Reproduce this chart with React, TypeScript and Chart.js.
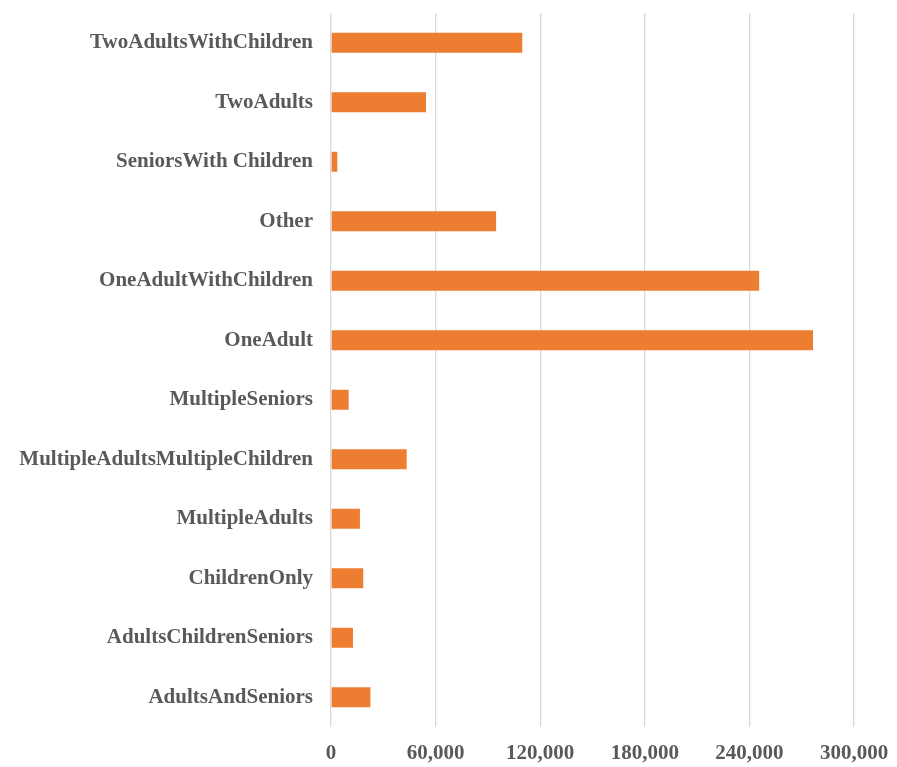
import React, { useEffect, useRef } from "react";
import { Chart, registerables } from "chart.js";

Chart.register(...registerables);

const categories: string[] = [
  "TwoAdultsWithChildren",
  "TwoAdults",
  "SeniorsWith Children",
  "Other",
  "OneAdultWithChildren",
  "OneAdult",
  "MultipleSeniors",
  "MultipleAdultsMultipleChildren",
  "MultipleAdults",
  "ChildrenOnly",
  "AdultsChildrenSeniors",
  "AdultsAndSeniors",
];

const values: number[] = [
  109700, 54500, 3600, 94700, 245600, 276500, 10100, 43400, 16600, 18500, 12600, 22600,
];

const xTicks: number[] = [0, 60000, 120000, 180000, 240000, 300000];

export default function App() {
  const canvasRef = useRef<HTMLCanvasElement | null>(null);

  useEffect(() => {
    document.body.style.margin = "0";
    const canvas = canvasRef.current;
    if (!canvas) return;
    const font = { family: "'Liberation Serif', 'Times New Roman', serif", weight: "bold" as const, size: 21 };
    const chart = new Chart(canvas, {
      type: "bar",
      data: {
        labels: categories,
        datasets: [
          {
            data: values,
            backgroundColor: "#ED7D31",
            borderWidth: 0,
            barPercentage: 0.336,
            categoryPercentage: 1,
          },
        ],
      },
      options: {
        indexAxis: "y",
        animation: false,
        responsive: true,
        maintainAspectRatio: false,
        layout: { padding: { top: 13, right: 43, left: 0, bottom: 0 } },
        plugins: { legend: { display: false }, tooltip: { enabled: false } },
        scales: {
          x: {
            min: xTicks[0],
            max: xTicks[xTicks.length - 1],
            afterBuildTicks: (scale: any) => {
              scale.ticks = xTicks.map((v) => ({ value: v }));
            },
            afterFit: (scale: any) => {
              scale.height = 40;
              scale.paddingLeft = 0;
              scale.paddingRight = 0;
            },
            grid: { color: "#d9d9d9", lineWidth: 1.3, drawTicks: false },
            border: { display: false },
            ticks: {
              color: "#595959",
              font,
              padding: 14,
              maxRotation: 0,
              callback: (v: any) => Number(v).toLocaleString("en-US"),
            },
          },
          y: {
            afterFit: (scale: any) => {
              scale.width = 331;
              scale.paddingTop = 0;
              scale.paddingBottom = 0;
            },
            grid: { display: false, drawTicks: false },
            border: { display: false },
            ticks: { color: "#595959", font, padding: 18, autoSkip: false },
          },
        },
      },
    });
    return () => chart.destroy();
  }, []);

  return (
    <div style={{ position: "absolute", left: 0, top: 0, width: 897, height: 767, background: "#fff" }}>
      <canvas ref={canvasRef} />
    </div>
  );
}
